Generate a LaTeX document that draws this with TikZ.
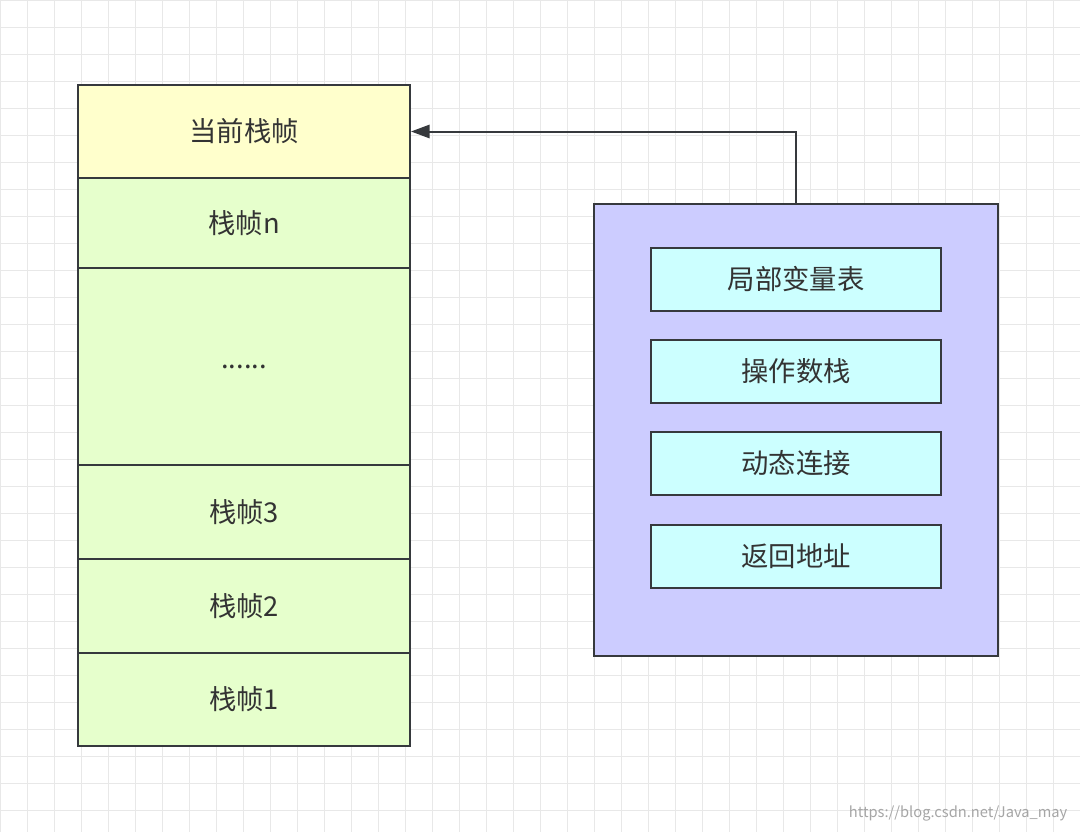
\documentclass[tikz,border=0pt]{standalone}
\usepackage{fontspec}
\setmainfont{Noto Sans CJK SC}
\usetikzlibrary{positioning,arrows.meta}
\definecolor{gridc}{HTML}{E8E8E8}
\definecolor{curc}{HTML}{FFFFCC}
\definecolor{framec}{HTML}{E6FFCC}
\definecolor{infoc}{HTML}{CCCCFF}
\definecolor{itemc}{HTML}{CCFFFF}
\definecolor{linec}{HTML}{36393D}
\tikzset{
  box/.style={draw=linec, line width=1.5pt, inner sep=0pt, font=\fontsize{20.5}{24}\selectfont, text=black!80},
  frame/.style={box, fill=framec, minimum width=249pt},
  item/.style={box, fill=itemc, minimum width=217.5pt, minimum height=47pt},
}
\begin{document}
\begin{tikzpicture}[x=0.75pt,y=-0.75pt]
\useasboundingbox (0,0) rectangle (1080,832);
\fill[white] (0,0) rectangle (1080,832);
% background grid
\foreach \g in {0,27,...,1080} \draw[gridc, line width=0.6pt] (\g,0) -- (\g,832);
\foreach \g in {0,27,...,832} \draw[gridc, line width=0.6pt] (0,\g) -- (1080,\g);

% stack of frames
\node[box, fill=curc, minimum width=249pt, minimum height=70pt] (cur) at (244,131.5) {当前栈帧};
\node[frame, minimum height=67.5pt] (fn) at (244,223) {栈帧n};
\node[frame, minimum height=147.75pt] (dots) at (244,366.5) {......};
\node[frame, minimum height=70.5pt] (f3) at (244,512) {栈帧3};
\node[frame, minimum height=70.5pt] (f2) at (244,606) {栈帧2};
\node[frame, minimum height=69.75pt] (f1) at (244,699.5) {栈帧1};

% frame contents
\node[box, fill=infoc, minimum width=303pt, minimum height=339pt] (info) at (796,430) {};
\node[item] (locals) at (796,279.5) {局部变量表};
\node[item] (ops) at (796,371.5) {操作数栈};
\node[item] (link) at (796,463.5) {动态连接};
\node[item] (ret) at (796,556.5) {返回地址};

\draw[linec, line width=1.5pt, -{Triangle[length=14pt,width=10pt]}] (info.north) |- (cur.east);

\node[anchor=south east, text=black!35, font=\fontsize{11}{13}\selectfont] (mark) at (1072,826) {https://blog.csdn.net/Java\_may};
\end{tikzpicture}
\end{document}
